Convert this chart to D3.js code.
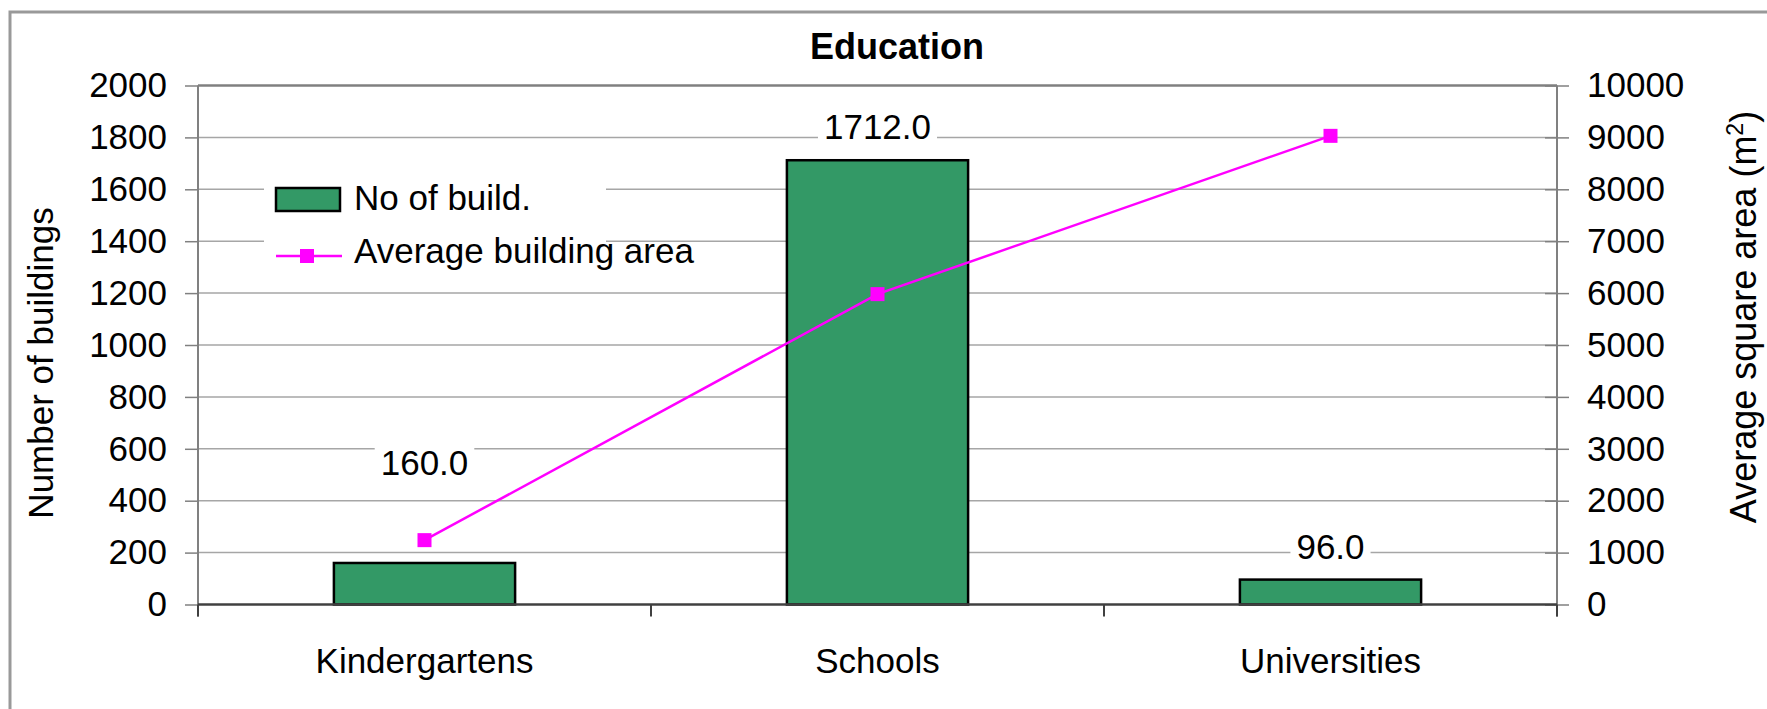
<!DOCTYPE html>
<html lang="en">
<head>
    <meta charset="UTF-8" />
    <title>Education</title>
    <style>
        body { margin: 0; background: #ffffff; }
        svg text { font-family: Arial, "Liberation Sans", Helvetica, sans-serif; fill: #000000; }
        .grid line { stroke: #a6a6a6; stroke-width: 1.5px; }
        .axis path { display: none; }
        .axis line { stroke: #808080; stroke-width: 1.5px; }
        .axis text { font-size: 35px; }
        .bar { fill: #339966; stroke: #000000; stroke-width: 2.5px; }
        .series-line { fill: none; stroke: #ff00ff; stroke-width: 2.5px; }
        .marker { fill: #ff00ff; }
    </style>
</head>
<body>
    <div id="chart"></div>

    <script src="https://cdn.jsdelivr.net/npm/d3@7"></script>
    <script>
        // data
        const categories = ['Kindergartens', 'Schools', 'Universities'];
        const buildings = [160, 1712, 96];
        const avgArea = [1240, 5980, 9030];
        const leftTicks = [0, 200, 400, 600, 800, 1000, 1200, 1400, 1600, 1800, 2000];
        const rightTicks = [0, 1000, 2000, 3000, 4000, 5000, 6000, 7000, 8000, 9000, 10000];
        const seriesNames = ['No of build.', 'Average building area'];

        const width = 1767, height = 709;
        const plot = { left: 198, right: 1557, top: 85.5, bottom: 604.5 };

        const svg = d3.select('#chart').append('svg')
            .attr('width', width)
            .attr('height', height);

        // outer chart frame (runs past the window on the right and bottom)
        svg.append('rect')
            .attr('x', 10).attr('y', 12)
            .attr('width', 1800).attr('height', 800)
            .attr('fill', 'none')
            .attr('stroke', '#999999')
            .attr('stroke-width', 3);

        const x = d3.scaleBand()
            .domain(categories)
            .range([plot.left, plot.right])
            .paddingInner(0.6)
            .paddingOuter(0.3);

        const yLeft = d3.scaleLinear().domain([0, 2000]).range([plot.bottom, plot.top]);
        const yRight = d3.scaleLinear().domain([0, 10000]).range([plot.bottom, plot.top]);

        // gridlines
        svg.append('g')
            .attr('class', 'grid')
            .selectAll('line')
            .data(leftTicks.filter(v => v > 0 && v < 2000))
            .enter().append('line')
            .attr('x1', plot.left).attr('x2', plot.right)
            .attr('y1', d => yLeft(d)).attr('y2', d => yLeft(d));

        // plot area top border
        svg.append('line')
            .attr('x1', plot.left).attr('x2', plot.right)
            .attr('y1', yLeft(2000)).attr('y2', yLeft(2000))
            .attr('stroke', '#808080').attr('stroke-width', 2.5);

        // axes
        svg.append('g')
            .attr('class', 'axis')
            .attr('transform', `translate(${plot.left},0)`)
            .call(d3.axisLeft(yLeft).tickValues(leftTicks).tickFormat(d3.format('d'))
                .tickSize(13).tickPadding(18));

        const rightAxis = svg.append('g')
            .attr('class', 'axis')
            .attr('transform', `translate(${plot.right},0)`)
            .call(d3.axisRight(yRight).tickValues(rightTicks).tickFormat(d3.format('d'))
                .tickSize(12).tickPadding(18));
        rightAxis.selectAll('.tick line').attr('x1', -12);

        // axis lines drawn by hand so they run down to the category ticks
        [plot.left, plot.right].forEach(px => {
            svg.append('line')
                .attr('x1', px).attr('x2', px)
                .attr('y1', plot.top).attr('y2', plot.bottom + 12)
                .attr('stroke', '#808080').attr('stroke-width', 2);
        });

        // category boundary ticks
        const bounds = categories.map(c => x(c) - x.step() * 0.3).concat([plot.right]);
        svg.append('g')
            .selectAll('line')
            .data(bounds)
            .enter().append('line')
            .attr('x1', d => d).attr('x2', d => d)
            .attr('y1', plot.bottom).attr('y2', plot.bottom + 12)
            .attr('stroke', '#404040').attr('stroke-width', 2);

        // bars
        svg.append('g')
            .selectAll('rect')
            .data(buildings)
            .enter().append('rect')
            .attr('class', 'bar')
            .attr('x', (d, i) => x(categories[i]))
            .attr('y', d => yLeft(d))
            .attr('width', x.bandwidth())
            .attr('height', d => yLeft(0) - yLeft(d));

        // category axis line
        svg.append('line')
            .attr('x1', plot.left).attr('x2', plot.right)
            .attr('y1', plot.bottom).attr('y2', plot.bottom)
            .attr('stroke', '#404040').attr('stroke-width', 2.5);

        // line series
        const cx = (d, i) => x(categories[i]) + x.bandwidth() / 2;
        const line = d3.line()
            .x(cx)
            .y(d => yRight(d));

        svg.append('path')
            .datum(avgArea)
            .attr('class', 'series-line')
            .attr('d', line);

        svg.append('g')
            .selectAll('rect')
            .data(avgArea)
            .enter().append('rect')
            .attr('class', 'marker')
            .attr('x', (d, i) => cx(d, i) - 7)
            .attr('y', d => yRight(d) - 7)
            .attr('width', 14)
            .attr('height', 14);

        // data labels, white boxes behind; nudged up when they hit the marker
        const labels = svg.append('g')
            .selectAll('g')
            .data(buildings)
            .enter().append('g')
            .attr('transform', (d, i) => {
                let ly = yLeft(d) - 34;
                const my = yRight(avgArea[i]);
                if (Math.abs(ly - my) < 40) ly = my - 78;
                return `translate(${cx(d, i)},${ly})`;
            });

        labels.append('text')
            .attr('text-anchor', 'middle')
            .attr('y', 13)
            .style('font-size', '35px')
            .text(d => d.toFixed(1));

        labels.each(function () {
            const g = d3.select(this);
            const bb = g.select('text').node().getBBox();
            g.insert('rect', 'text')
                .attr('x', bb.x - 6).attr('y', bb.y - 2)
                .attr('width', bb.width + 12).attr('height', bb.height + 4)
                .attr('fill', '#ffffff');
        });

        // category labels
        svg.append('g')
            .selectAll('text')
            .data(categories)
            .enter().append('text')
            .attr('x', (d, i) => cx(d, i))
            .attr('y', 673)
            .attr('text-anchor', 'middle')
            .style('font-size', '35px')
            .text(d => d);

        // title
        svg.append('text')
            .attr('x', 897).attr('y', 59)
            .attr('text-anchor', 'middle')
            .style('font-size', '36px')
            .style('font-weight', 'bold')
            .text('Education');

        // axis titles
        svg.append('text')
            .attr('transform', 'translate(53,363) rotate(-90)')
            .attr('text-anchor', 'middle')
            .style('font-size', '35px')
            .text('Number of buildings');

        const rt = svg.append('text')
            .attr('transform', 'translate(1756,317) rotate(-90)')
            .attr('text-anchor', 'middle')
            .style('font-size', '36px');
        rt.append('tspan').text('Average square area (m');
        rt.append('tspan').attr('dy', -13).style('font-size', '23px').text('2');
        rt.append('tspan').attr('dy', 13).text(')');

        // legend
        const legend = svg.append('g');
        legend.append('rect')
            .attr('x', 264).attr('y', 166)
            .attr('width', 342).attr('height', 120)
            .attr('fill', '#ffffff');

        legend.append('rect')
            .attr('class', 'bar')
            .attr('x', 276).attr('y', 188)
            .attr('width', 64).attr('height', 23);

        legend.append('line')
            .attr('x1', 276).attr('x2', 342)
            .attr('y1', 256).attr('y2', 256)
            .attr('stroke', '#ff00ff').attr('stroke-width', 2.5);

        legend.append('rect')
            .attr('class', 'marker')
            .attr('x', 300).attr('y', 249)
            .attr('width', 14).attr('height', 14);

        legend.selectAll('text.item')
            .data(seriesNames)
            .enter().append('text')
            .attr('class', 'item')
            .attr('x', 354)
            .attr('y', (d, i) => 210 + i * 53)
            .style('font-size', '35px')
            .text(d => d);
    </script>
</body>
</html>
